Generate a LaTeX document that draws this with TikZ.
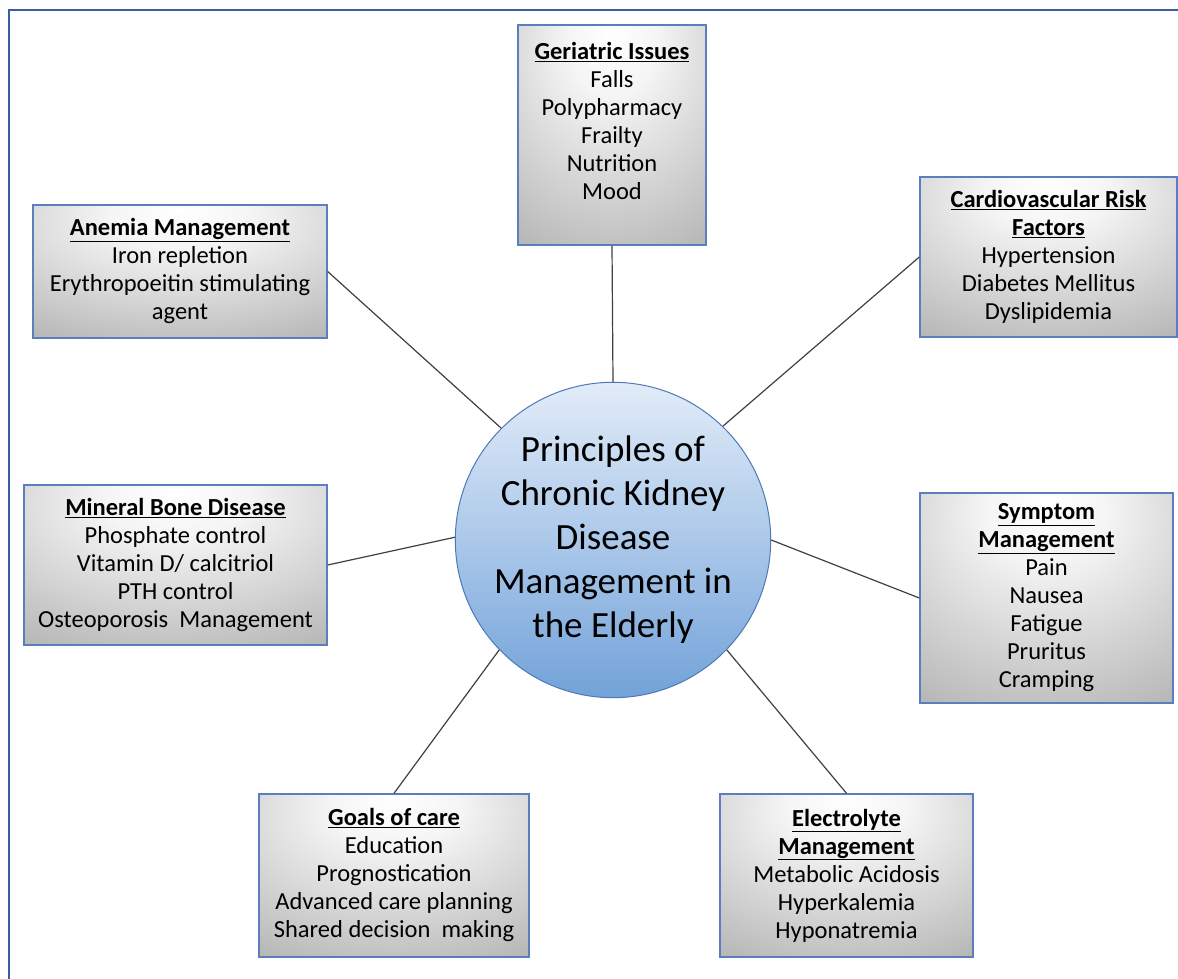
\documentclass[tikz,border=0pt]{standalone}
\usepackage{fontspec}
\setmainfont{Carlito}
\usetikzlibrary{calc}

\definecolor{framec}{HTML}{3A5D9C}
\definecolor{boxline}{HTML}{5A7EBE}
\definecolor{circline}{HTML}{4F79B5}
\definecolor{linkc}{HTML}{404040}
\definecolor{circtop}{HTML}{E2ECF8}
\definecolor{circmid}{HTML}{ABC8EA}
\definecolor{circbot}{HTML}{72A2D8}

% light spot near the top centre, grey towards the edges
\pgfdeclareradialshading{boxshade}{\pgfpoint{0bp}{24bp}}{%
  color(0bp)=(white);
  color(12bp)=(white!96!black);
  color(50bp)=(white!68!black);
  color(85bp)=(white!58!black);
  color(100bp)=(white!58!black)}

\newcommand{\hd}[1]{\underline{\textbf{#1}}}

\tikzset{
  topic/.style={draw=boxline, line width=1.4pt, shading=boxshade,
    rectangle, inner sep=0pt, align=center, text=black,
    font=\fontsize{24.5}{28}\selectfont},
  hub/.style={draw=circline, line width=1pt, circle, inner sep=0pt,
    minimum size=306pt, top color=circtop, bottom color=circbot,
    middle color=circmid, align=center, text=black,
    font=\fontsize{37}{44}\selectfont},
  link/.style={draw=linkc, line width=1.2pt},
  frameline/.style={draw=framec, line width=2pt}
}

\begin{document}
\begin{tikzpicture}[x=1pt, y=-1pt]
  \useasboundingbox (0,0) rectangle (1178,979);

  % outer frame (left and top edges)
  \draw[frameline] (9,979) -- (9,10) -- (1178,10);

  % central topic
  \node[hub] (c) at (613,540)
    {Principles of\\Chronic Kidney\\Disease\\Management in\\the Elderly};

  % surrounding topics
  \node[topic, minimum width=188pt, minimum height=220pt] (ger) at (612,135)
    {\hd{Geriatric Issues}\\Falls\\Polypharmacy\\Frailty\\Nutrition\\Mood\\~};
  \node[topic, minimum width=257pt, minimum height=160pt] (card) at (1048.5,257)
    {\hd{Cardiovascular Risk}\\\hd{Factors}\\Hypertension\\Diabetes Mellitus\\Dyslipidemia};
  \node[topic, minimum width=294pt, minimum height=133pt] (anem) at (180,271.5)
    {\hd{Anemia Management}\\Iron repletion\\Erythropoeitin stimulating\\agent};
  \node[topic, minimum width=303pt, minimum height=160pt] (mbd) at (175.5,565)
    {\hd{Mineral Bone Disease}\\Phosphate control\\Vitamin D/ calcitriol\\PTH control\\Osteoporosis~ Management};
  \node[topic, minimum width=253pt, minimum height=210pt] (sym) at (1046.5,598)
    {\hd{Symptom}\\\hd{Management}\\Pain\\Nausea\\Fatigue\\Pruritus\\Cramping};
  \node[topic, minimum width=270pt, minimum height=163pt] (goal) at (394,875.5)
    {\hd{Goals of care}\\Education\\Prognostication\\Advanced care planning\\Shared decision~ making};
  \node[topic, minimum width=253pt, minimum height=163pt] (elec) at (846.5,875.5)
    {\hd{Electrolyte}\\\hd{Management}\\Metabolic Acidosis\\Hyperkalemia\\Hyponatremia};

  % connectors
  \draw[link] (ger.south) -- (c.north);
  \draw[link] (card.west) -- (c.46);
  \draw[link] (anem.east) -- (c.135);
  \draw[link] (mbd.east) -- (c.179);
  \draw[link] (sym.west) -- (c.east);
  \draw[link] (goal.north) -- (c.224);
  \draw[link] (elec.north) -- (c.316);
\end{tikzpicture}
\end{document}
